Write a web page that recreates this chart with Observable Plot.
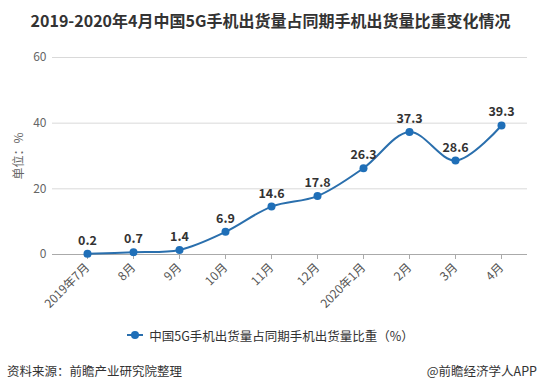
<!DOCTYPE html>
<html><head><meta charset="utf-8">
<script src="https://cdn.jsdelivr.net/npm/d3@7"></script>
<script src="https://cdn.jsdelivr.net/npm/@observablehq/plot@0.6"></script>
<style>
body{margin:0;width:541px;height:391px;background:#fff;font-family:"Noto Sans CJK SC","Noto Sans",sans-serif;position:relative;overflow:hidden}
#title{height:40px;line-height:40px;text-align:center;font-weight:bold;font-size:16px;color:#333;letter-spacing:0}
#chart{height:280px}
#legend{position:absolute;left:0;right:0;top:325px;height:20px;display:flex;justify-content:center;align-items:center;font-size:12.5px;color:#333}
#legend svg{margin-right:6px}
#foot{position:absolute;left:7px;right:4px;top:360px;height:20px;display:flex;justify-content:space-between;align-items:center;font-size:12.5px;color:#333}
</style></head>
<body>
<div id="title">2019-2020年4月中国5G手机出货量占同期手机出货量比重变化情况</div>
<div id="chart"></div>
<div id="legend"></div>
<div id="foot"><span id="src"></span><span id="brand"></span></div>
<script>
const months = ["2019年7月","8月","9月","10月","11月","12月","2020年1月","2月","3月","4月"];
const values = [0.2, 0.7, 1.4, 6.9, 14.6, 17.8, 26.3, 37.3, 28.6, 39.3];
const yTicks = [0, 20, 40, 60];
const seriesName = "中国5G手机出货量占同期手机出货量比重（%）";
const yLabel = "单位：%";
const source = "资料来源：前瞻产业研究院整理";
const brand = "@前瞻经济学人APP";

const lineColor = "#2a6fad";
const dotColor = "#1f6fb8";
const data = months.map((m, i) => ({month: m, value: values[i]}));

const chart = Plot.plot({
  width: 541, height: 280,
  marginTop: 17, marginBottom: 66, marginLeft: 52, marginRight: 14,
  style: {fontFamily: '"Noto Sans CJK SC","Noto Sans",sans-serif', background: "transparent", color: "#666"},
  x: {type: "point", domain: months, padding: 0, insetLeft: 33, insetRight: 24, label: null},
  y: {domain: [0, 60], label: null},
  marks: [
    Plot.gridY(yTicks, {stroke: "#d9d9d9", strokeOpacity: 1}),
    Plot.axisY(yTicks, {tickSize: 0, tickPadding: 6, fill: "#666", fontSize: 12,
      label: yLabel, labelAnchor: "center", labelArrow: "none", labelOffset: 38}),
    Plot.ruleY([0], {stroke: "#aaa"}),
    Plot.axisX({tickRotate: -45, tickSize: 5, stroke: "#aaa", tickPadding: 6, fill: "#555", fontSize: 12}),
    Plot.line(data, {x: "month", y: "value", curve: "catmull-rom", stroke: lineColor, strokeWidth: 2}),
    Plot.dot(data, {x: "month", y: "value", r: 4, fill: dotColor}),
    Plot.text(data, {x: "month", y: "value", text: d => d.value.toFixed(1), dy: -13,
      fontWeight: "bold", fontSize: 12.5, fill: "#333"})
  ]
});
document.getElementById("chart").append(chart);

document.getElementById("legend").innerHTML =
  `<svg width="16" height="10"><line x1="0" y1="5" x2="16" y2="5" stroke="${lineColor}" stroke-width="2"/><circle cx="8" cy="5" r="4" fill="${dotColor}"/></svg><span>${seriesName}</span>`;
document.getElementById("src").textContent = source;
document.getElementById("brand").textContent = brand;
</script>
</body></html>
